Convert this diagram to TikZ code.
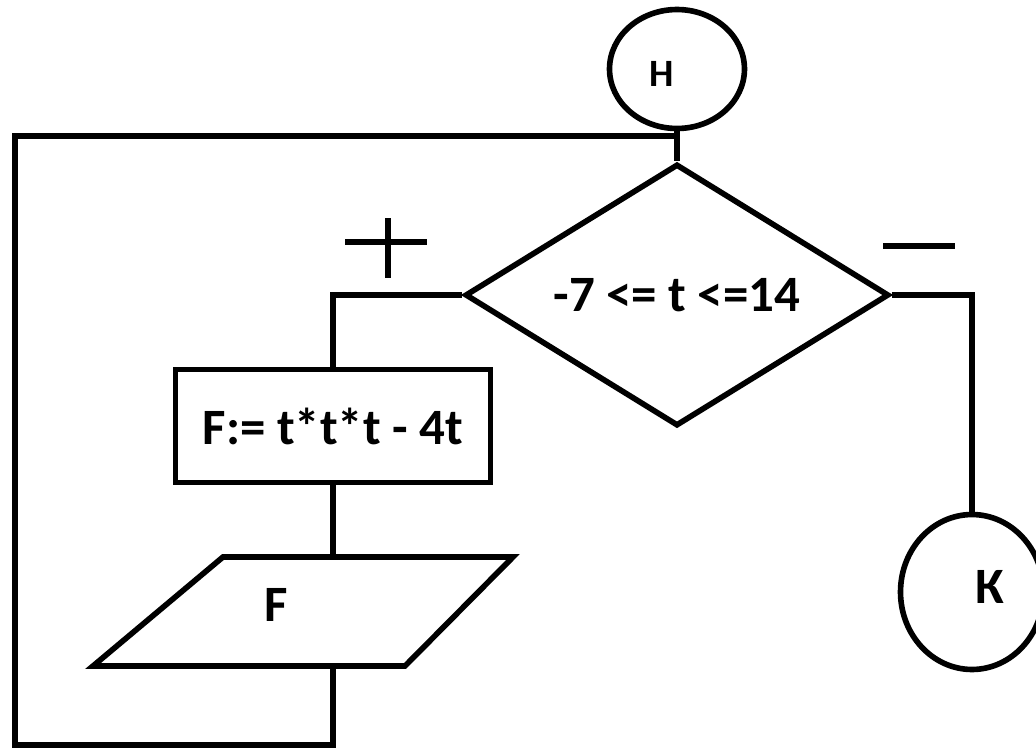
\documentclass[tikz,border=0pt]{standalone}
\usepackage{fontspec}
\setmainfont{Carlito}
\usetikzlibrary{shapes.geometric}
\begin{document}
\begin{tikzpicture}[x=0.02cm, y=-0.02cm, line width=3.2pt,
	term/.style = {draw, ellipse, inner sep=0pt},
	cond/.style = {draw, diamond, aspect=1.6, inner sep=0pt, minimum width=8.48cm, minimum height=5.24cm},
	proc/.style = {draw, rectangle, inner sep=0pt, minimum width=6.3cm, minimum height=2.26cm},
	txt/.style = {font=\bfseries\fontsize{29}{30}\selectfont}]
			
			\useasboundingbox (0, 0) rectangle (1036, 748);

			\node[term, minimum width=2.7cm, minimum height=2.38cm] (start) at (677, 69) {};
\node[txt, font=\bfseries\fontsize{22}{24}\selectfont] (startlbl) at (662, 74) {Н};
\node[cond, txt] (check) at (677, 295) {-7 <= t <=14};
\node[proc, txt] (calc) at (333, 426) {F:= t*t*t - 4t};
\node[term, minimum width=2.86cm, minimum height=3.1cm] (stop) at (972, 592) {};
\node[txt] (stoplbl) at (990, 587) {К};

			\coordinate (p1) at (223, 557);
\coordinate (p2) at (513, 557);
\coordinate (p3) at (405, 666);
\coordinate (p4) at (93, 666);
\coordinate (outtop) at (333, 557);
\coordinate (outbot) at (333, 666);
\coordinate (join) at (677, 136);
\coordinate (corner) at (15, 745);

			\draw (p1) -- (p2) -- (p3) -- (p4) -- cycle;
			\node[txt] (outlbl) at (276, 605) {F};

			\draw (start.south) -- (join) -- (check.north);
\draw (check.west) -| (calc.north);
\draw (calc.south) -- (outtop);
\draw (outbot) |- (corner) |- (join);
\draw (check.east) -| (stop.north);

			% + and - marks
			\draw (388, 218) -- (388, 278);
\draw (345, 242) -- (427, 242);
\draw (883, 246) -- (955, 246);

			
		\end{tikzpicture}
\end{document}
